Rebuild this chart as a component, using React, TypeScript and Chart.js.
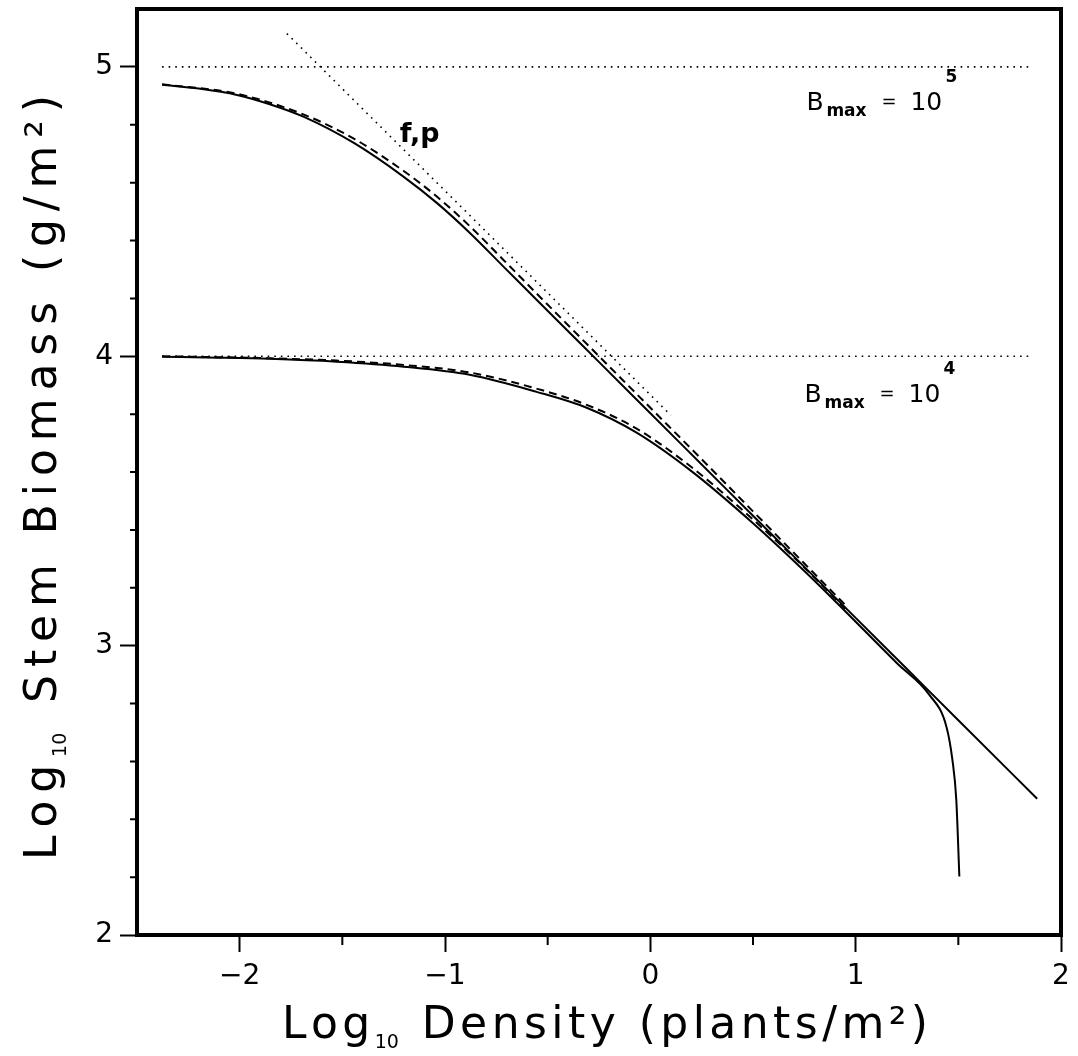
import React, { useEffect, useRef } from 'react';
import { Chart, registerables } from 'chart.js';

Chart.register(...registerables);

// Axis ranges and ticks
const X_MIN = -2.5;
const X_MAX = 2;
const Y_MIN = 2;
const Y_MAX = 5.2;
const xMinorTicks = [-1.5, -0.5, 0.5, 1.5];
const yMinorTicks = [2.2, 2.4, 2.6, 2.8, 3.2, 3.4, 3.6, 3.8, 4.2, 4.4, 4.6, 4.8];

// B_max = 10^5 curves
const upperSolidX = [-2.378, -2.2, -2.013, -1.85, -1.687, -1.444, -1.201, -1.04, -0.88, -0.714, -0.554, -0.393, -0.247, 0, 0.25, 0.5, 0.75, 1.0, 1.25, 1.5, 1.884];
const upperSolidY = [4.938, 4.925, 4.903, 4.87, 4.827, 4.737, 4.62, 4.53, 4.427, 4.309, 4.195, 4.081, 3.978, 3.803, 3.626, 3.449, 3.272, 3.096, 2.919, 2.742, 2.471];
const upperDashX = [-2.378, -2.013, -1.687, -1.444, -1.201, -1.04, -0.88, -0.714, -0.554, -0.393, -0.247, 0, 0.25, 0.5, 0.75, 0.95];
const upperDashY = [4.94, 4.907, 4.835, 4.752, 4.64, 4.552, 4.45, 4.332, 4.217, 4.102, 3.998, 3.822, 3.644, 3.464, 3.284, 3.14];

// B_max = 10^4 curves
const lowerSolidX = [-2.378, -2.1, -1.853, -1.527, -1.201, -0.88, -0.554, -0.31, -0.067, 0.2, 0.5, 0.75, 0.887, 1.2, 1.359, 1.442, 1.471, 1.49, 1.505];
const lowerSolidY = [3.998, 3.995, 3.991, 3.981, 3.964, 3.936, 3.877, 3.822, 3.736, 3.603, 3.423, 3.258, 3.163, 2.94, 2.83, 2.72, 2.606, 2.468, 2.202];
const lowerDashX = [-2.378, -1.853, -1.527, -1.201, -0.88, -0.554, -0.31, -0.067, 0.2, 0.5, 0.75, 0.95];
const lowerDashY = [4.0, 3.993, 3.985, 3.97, 3.944, 3.888, 3.832, 3.75, 3.617, 3.436, 3.27, 3.127];

// f,p line and B_max reference lines
const fpLineX = [-1.77, 0.1];
const fpLineY = [5.115, 3.796];
const bmaxLineX = [-2.378, 1.845];
const bmax5Y = [5, 5];
const bmax4Y = [4, 4];

const toPts = (xs: number[], ys: number[]) => xs.map((x, i) => ({ x, y: ys[i] }));

const FONT = 'DejaVu Sans';

type Run = { t: string; font: string; dy: number; tight?: boolean };

function drawSpaced(ctx: CanvasRenderingContext2D, runs: Run[], startX: number, baseY: number, target: number) {
  let natural = 0;
  let gaps = 0;
  let first = true;
  for (const r of runs) {
    ctx.font = r.font;
    let i = 0;
    for (const ch of r.t) {
      natural += ctx.measureText(ch).width;
      if (!first && !(r.tight && i > 0)) gaps++;
      first = false;
      i++;
    }
  }
  const gap = (target - natural) / gaps;
  let cx = startX;
  first = true;
  for (const r of runs) {
    ctx.font = r.font;
    let i = 0;
    for (const ch of r.t) {
      if (!first && !(r.tight && i > 0)) cx += gap;
      first = false;
      ctx.fillText(ch, cx, baseY + r.dy);
      cx += ctx.measureText(ch).width;
      i++;
    }
  }
}

function drawBmax(ctx: CanvasRenderingContext2D, px: number, py: number, exp: string) {
  ctx.font = `25px ${FONT}`;
  ctx.fillText('B', px, py);
  ctx.font = `bold 17px ${FONT}`;
  ctx.fillText('max', px + 20, py + 6);
  ctx.font = `18px ${FONT}`;
  ctx.fillText('=', px + 75, py - 3);
  ctx.font = `25px ${FONT}`;
  ctx.fillText('10', px + 104, py);
  ctx.font = `bold 17px ${FONT}`;
  ctx.fillText(exp, px + 139, py - 28);
}

const overlay = {
  id: 'overlay',
  afterDraw(chart: any) {
    const { ctx, chartArea: a, scales } = chart;
    const xs = scales.x;
    const ys = scales.y;
    ctx.save();
    ctx.strokeStyle = '#000';
    ctx.fillStyle = '#000';
    ctx.lineWidth = 4;
    ctx.strokeRect(a.left, a.top, a.right - a.left, a.bottom - a.top);
    ctx.lineWidth = 2;
    ctx.beginPath();
    for (const v of xMinorTicks) {
      const p = xs.getPixelForValue(v);
      ctx.moveTo(p, a.bottom);
      ctx.lineTo(p, a.bottom + 10);
    }
    for (const v of yMinorTicks) {
      const p = ys.getPixelForValue(v);
      ctx.moveTo(a.left - 7, p);
      ctx.lineTo(a.left, p);
    }
    ctx.stroke();

    ctx.textBaseline = 'alphabetic';
    ctx.textAlign = 'left';
    // f,p label
    ctx.font = `bold 27px ${FONT}`;
    ctx.fillText('f,p', xs.getPixelForValue(-1.22), ys.getPixelForValue(4.741));
    // Bmax labels
    drawBmax(ctx, xs.getPixelForValue(0.76), ys.getPixelForValue(4.851), '5');
    drawBmax(ctx, xs.getPixelForValue(0.751), ys.getPixelForValue(3.843), '4');

    // X axis title
    drawSpaced(
      ctx,
      [
        { t: 'Log', font: `44px ${FONT}`, dy: 0 },
        { t: '10', font: `19px ${FONT}`, dy: 10, tight: true },
        { t: ' Density (plants/m²)', font: `44px ${FONT}`, dy: 0 },
      ],
      282,
      1038,
      646
    );
    // Y axis title
    ctx.save();
    ctx.translate(56, 860);
    ctx.rotate(-Math.PI / 2);
    drawSpaced(
      ctx,
      [
        { t: 'Log', font: `44px ${FONT}`, dy: 0 },
        { t: '10', font: `19px ${FONT}`, dy: 10, tight: true },
        { t: ' Stem Biomass (g/m²)', font: `44px ${FONT}`, dy: 0 },
      ],
      0,
      0,
      765
    );
    ctx.restore();
    ctx.restore();
  },
};

const whiteBg = {
  id: 'whiteBg',
  beforeDraw(chart: any) {
    const { ctx, width, height } = chart;
    ctx.save();
    ctx.fillStyle = '#fff';
    ctx.fillRect(0, 0, width, height);
    ctx.restore();
  },
};

export default function App() {
  const ref = useRef<HTMLCanvasElement>(null);
  useEffect(() => {
    if (!ref.current) return;
    const base = { pointRadius: 0, showLine: true, fill: false, borderColor: '#000', cubicInterpolationMode: 'monotone' as const };
    const chart = new Chart(ref.current, {
      type: 'scatter',
      data: {
        datasets: [
          { ...base, label: 'Bmax 1e5', data: toPts(upperSolidX, upperSolidY), borderWidth: 2 },
          { ...base, label: 'Bmax 1e5 dashed', data: toPts(upperDashX, upperDashY), borderWidth: 2, borderDash: [8, 5] },
          { ...base, label: 'Bmax 1e4', data: toPts(lowerSolidX, lowerSolidY), borderWidth: 2 },
          { ...base, label: 'Bmax 1e4 dashed', data: toPts(lowerDashX, lowerDashY), borderWidth: 2, borderDash: [8, 5] },
          { ...base, label: 'f,p', data: toPts(fpLineX, fpLineY), borderWidth: 1.6, borderDash: [1.6, 5] },
          { ...base, label: 'B5', data: toPts(bmaxLineX, bmax5Y), borderWidth: 1.6, borderDash: [1.6, 5] },
          { ...base, label: 'B4', data: toPts(bmaxLineX, bmax4Y), borderWidth: 1.6, borderDash: [1.6, 5] },
        ],
      },
      options: {
        animation: false,
        responsive: false,
        devicePixelRatio: 1,
        layout: { padding: { top: 9, right: 17, left: 0, bottom: 0 } },
        plugins: { legend: { display: false }, tooltip: { enabled: false } },
        scales: {
          x: {
            type: 'linear',
            min: X_MIN,
            max: X_MAX,
            border: { display: false },
            grid: { drawOnChartArea: false, drawTicks: true, tickLength: 17, tickWidth: 2, tickColor: '#000' },
            ticks: {
              stepSize: 1,
              includeBounds: false,
              color: '#000',
              padding: 8,
              maxRotation: 0,
              font: { family: FONT, size: 28 },
              callback: (v: any) => (Number(v) < 0 ? '\u2212' + Math.abs(Number(v)) : String(v)),
            },
            afterFit: (s: any) => {
              s.height = 121;
              s.paddingLeft = 0;
              s.paddingRight = 0;
            },
          },
          y: {
            type: 'linear',
            min: Y_MIN,
            max: Y_MAX,
            border: { display: false },
            grid: { drawOnChartArea: false, drawTicks: true, tickLength: 17, tickWidth: 2, tickColor: '#000' },
            ticks: {
              stepSize: 1,
              includeBounds: false,
              color: '#000',
              padding: 7,
              font: { family: FONT, size: 28 },
              callback: (v: any) => String(v),
            },
            afterFit: (s: any) => {
              s.width = 137;
              s.paddingTop = 0;
              s.paddingBottom = 0;
            },
          },
        },
      },
      plugins: [whiteBg, overlay],
    });
    return () => chart.destroy();
  }, []);
  return (
    <div style={{ position: 'absolute', left: 0, top: 0, width: 1078, height: 1056 }}>
      <canvas ref={ref} width={1078} height={1056} style={{ width: 1078, height: 1056 }} />
    </div>
  );
}
